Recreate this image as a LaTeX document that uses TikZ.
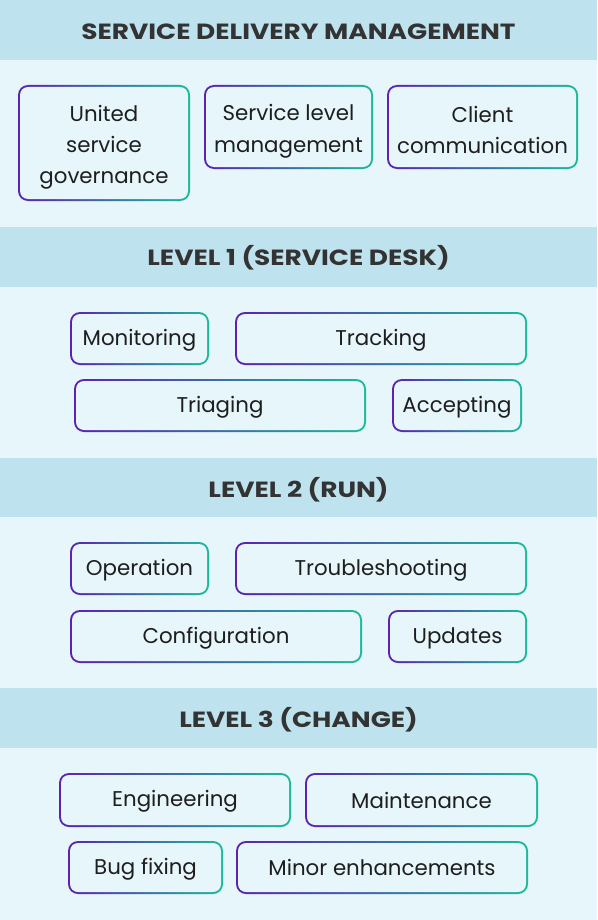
\documentclass[tikz,border=0pt]{standalone}
\usepackage{fontspec}
\setmainfont{Poppins}
\newfontfamily\hfont{Poppins}[FakeStretch=1.2]
\definecolor{hdr}{HTML}{BFE3EE}
\definecolor{bodybg}{HTML}{E6F6FB}
\definecolor{gpur}{HTML}{5E21B2}
\definecolor{gteal}{HTML}{1BBA9A}
\definecolor{htext}{HTML}{333333}
\definecolor{btext}{HTML}{1E1E1E}
\newcommand\st{\rule[-2.4pt]{0pt}{17pt}}
\newcommand\stt{\rule[-2.4pt]{0pt}{21pt}}
\newcommand\hst{\rule[-2pt]{0pt}{18pt}}
\tikzset{
  gbox/.style={rounded corners=7.5pt, inner sep=0pt, text=btext, align=center,
    font=\fontsize{16}{23.5}\selectfont,
    path picture={
      \shade[left color=gpur, right color=gteal] (path picture bounding box.south west) rectangle (path picture bounding box.north east);
      \fill[bodybg, rounded corners=6pt] ([shift={(1.5pt,1.5pt)}]path picture bounding box.south west) rectangle ([shift={(-1.5pt,-1.5pt)}]path picture bounding box.north east);
    }},
  band/.style={fill=hdr},
  htitle/.style={inner sep=0pt, text=htext, font=\hfont\fontsize{16.5}{20}\selectfont\bfseries}
}
\newcommand\gbx[6]{\node[gbox, minimum width={(#4-#2)*0.75pt}, minimum height={(#5-#3)*0.75pt}] (#1) at ({(#2+#4)/2},{(#3+#5)/2}) {#6};}
\begin{document}
\begin{tikzpicture}[x=0.75pt, y=-0.75pt]
\useasboundingbox (0,0) rectangle (597,920);
\fill[bodybg] (0,0) rectangle (597,920);
% bands
\fill[band] (0,0) rectangle (597,60);
\fill[band] (0,227) rectangle (597,287);
\fill[band] (0,458) rectangle (597,517);
\fill[band] (0,688) rectangle (597,748);
\node[htitle] (h1) at (298.5,30) {\hst SERVICE DELIVERY MANAGEMENT};
\node[htitle] (h2) at (298.5,257) {\hst LEVEL 1 (SERVICE DESK)};
\node[htitle] (h3) at (298.5,489) {\hst LEVEL 2 (RUN)};
\node[htitle] (h4) at (298.5,719) {\hst LEVEL 3 (CHANGE)};
% section 1
\gbx{usg}{18}{85}{190}{201}{\stt United\\\st service\\\st governance}
\gbx{slm}{204}{85}{373}{169}{\stt Service level\\\st management}
\gbx{cc}{387}{85}{578}{169}{\stt Client\\\st communication}
% section 2
\gbx{mon}{70}{312}{209}{365}{\st Monitoring}
\gbx{trk}{235}{312}{527}{365}{\st Tracking}
\gbx{tri}{74}{379}{366}{432}{\st Triaging}
\gbx{acc}{392}{379}{522}{432}{\st Accepting}
% section 3
\gbx{ope}{70}{542}{209}{595}{\st Operation}
\gbx{trb}{235}{542}{527}{595}{\st Troubleshooting}
\gbx{cfg}{70}{610}{362}{663}{\st Configuration}
\gbx{upd}{388}{610}{527}{663}{\st Updates}
% section 4
\gbx{eng}{59}{773}{291}{827}{\st Engineering}
\gbx{mnt}{305}{773}{538}{827}{\st Maintenance}
\gbx{bug}{68}{841}{223}{894}{\st Bug fixing}
\gbx{mie}{236}{841}{528}{894}{\st Minor enhancements}
\end{tikzpicture}
\end{document}
